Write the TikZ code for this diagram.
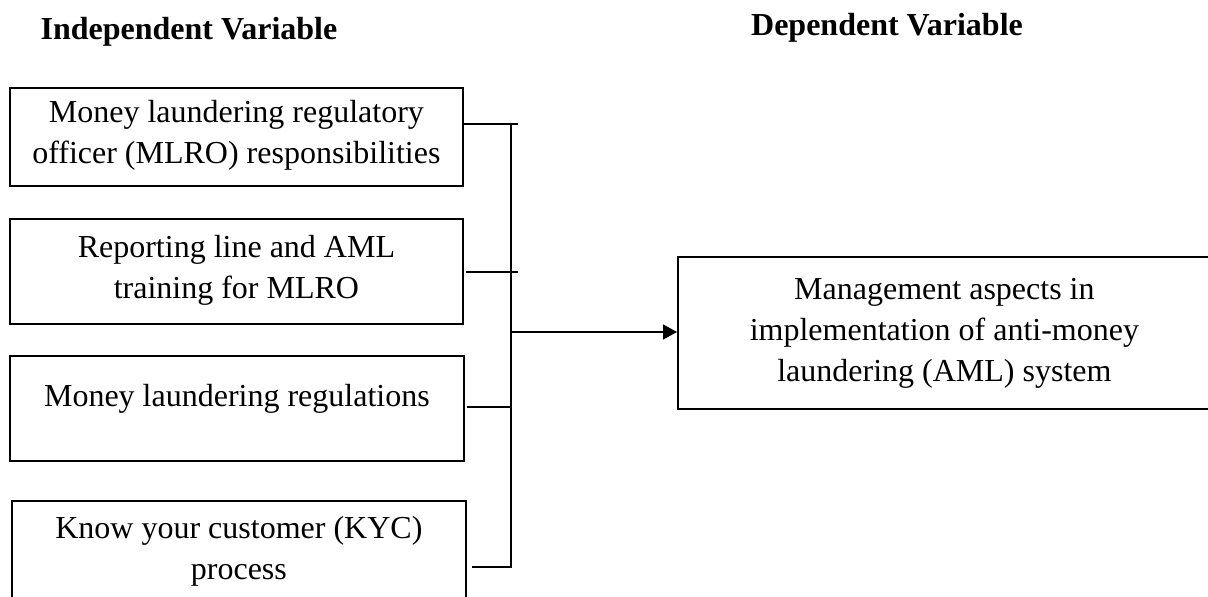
\documentclass[tikz,border=0pt]{standalone}
\usepackage{fontspec}
\setmainfont{Liberation Serif}
\usetikzlibrary{arrows.meta}

\tikzset{
  varbox/.style={draw, line width=1.8pt, inner sep=0pt, align=center, anchor=north west,
    font=\fontsize{32}{41}\selectfont},
  heading/.style={anchor=base, inner sep=0pt, font=\fontsize{32}{38}\selectfont\bfseries},
  conn/.style={line width=1.3pt},
  arrowconn/.style={conn, -{Triangle[length=14pt,width=15pt]}},
}

\begin{document}
\begin{tikzpicture}[x=1pt, y=-1pt]
  \useasboundingbox (0,0) rectangle (1208,597);
  \clip (0,0) rectangle (1208,597);

  % column headings
  \node[heading] (hi) at (189,39) {Independent Variable};
  \node[heading] (hd) at (887,35) {Dependent Variable};

  % independent variables (text height/depth measured from the last line's baseline)
  \node[varbox, minimum width=453pt, text height=76pt, text depth=22pt] (i1) at (9,87)
    {Money laundering regulatory\\officer (MLRO) responsibilities};
  \node[varbox, minimum width=453pt, text height=80pt, text depth=25pt] (i2) at (9,218)
    {Reporting line and AML\\training for MLRO};
  \node[varbox, minimum width=454pt, text height=51pt, text depth=54pt] (i3) at (9,355)
    {Money laundering regulations};
  \node[varbox, minimum width=454pt, text height=79pt, text depth=41pt] (i4) at (11,500)
    {Know your customer (KYC)\\process};

  % dependent variable
  \node[varbox, minimum width=533pt, text height=125pt, text depth=27pt] (dv) at (677,256)
    {Management aspects in\\implementation of anti-money\\laundering (AML) system};

  % collecting bus
  \coordinate (bustop) at (511,123);
  \coordinate (busbot) at (511,567);
  \coordinate (t1) at (518,124);
  \coordinate (t2) at (518,272);
  \coordinate (t3) at (511,407);
  \coordinate (t4) at (512,567);
  \coordinate (busout) at (511,332);

  \draw[conn] (bustop) -- (busbot);
  \draw[conn] (i1.east |- t1) -- (t1);
  \draw[conn] ([xshift=2pt]i2.east |- t2) -- (t2);
  \draw[conn] ([xshift=2pt]i3.east |- t3) -- (t3);
  \draw[conn] ([xshift=5pt]i4.east |- t4) -- (t4);
  \draw[arrowconn] (busout) -- (busout -| dv.west);
\end{tikzpicture}
\end{document}
